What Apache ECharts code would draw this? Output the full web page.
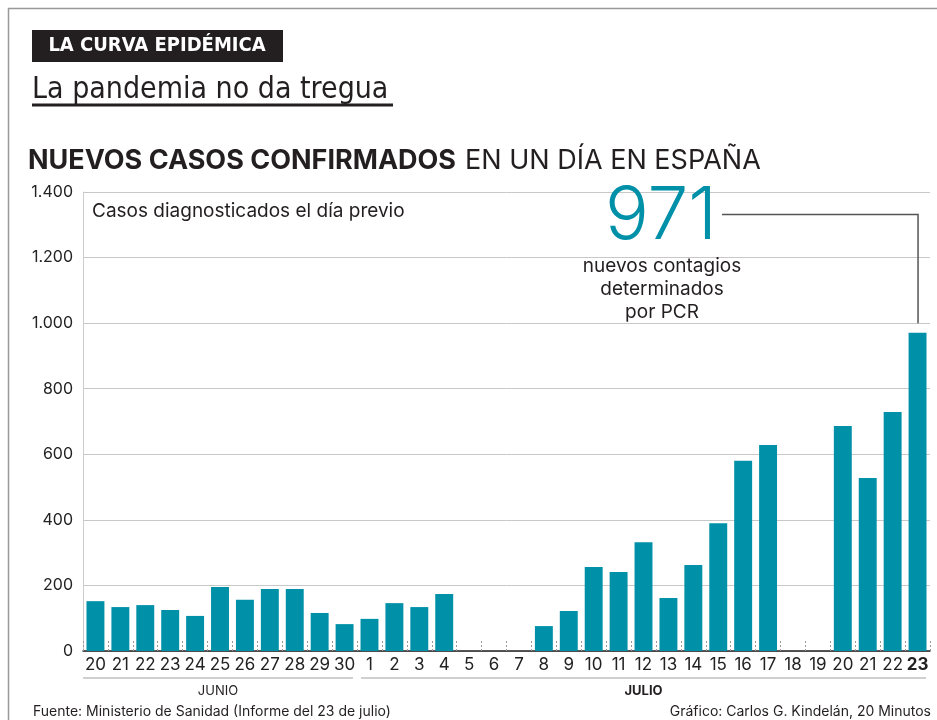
<!DOCTYPE html>
<html>
<head>
<meta charset="utf-8">
<script src="https://cdn.jsdelivr.net/npm/echarts@6/dist/echarts.min.js"></script>
<style>
  html, body {margin: 0; padding: 0; background: #fff;}
  #chart {width: 937px; height: 720px;}
</style>
</head>
<body>
<div id="chart"></div>
<script>
// days shown: 20-30 junio, 1-23 julio
const days = ['20', '21', '22', '23', '24', '25', '26', '27', '28', '29', '30',
  '1', '2', '3', '4', '5', '6', '7', '8', '9', '10', '11', '12', '13', '14', '15', '16', '17', '18', '19', '20', '21', '22', '23']
const months = [{name: 'JUNIO', from: 0, to: 10, bold: false}, {name: 'JULIO', from: 11, to: 33, bold: true}]
// null = sin dato publicado
const cases = [152, 134, 140, 125, 107, 195, 156, 189, 189, 116, 82,
  98, 146, 134, 174, null, null, null, 76, 122, 256, 241, 332, 162, 262, 390, 580, 628, null, null, 686, 528, 729, 971]

const FONT = 'Inter, "Noto Sans", sans-serif'
const teal = '#0091a9'

let chart = echarts.init(document.getElementById('chart'), null, {renderer: 'canvas'})

const fmt = v => String(v).replace(/\B(?=(\d{3})+(?!\d))/g, '.')

let option = {
  animation: false,
  textStyle: {fontFamily: FONT},
  grid: {left: 83, right: 7, top: 192, bottom: 69, containLabel: false},
  xAxis: {
    type: 'category',
    data: days,
    axisLine: {lineStyle: {color: '#222', width: 1.5}},
    axisTick: {
      show: true, inside: true, length: 10,
      lineStyle: {color: '#999', type: [2, 2], width: 1}
    },
    axisLabel: {
      color: '#222', fontSize: 17, margin: 5, interval: 0, fontFamily: FONT,
      formatter: (v, i) => i === days.length - 1 ? '{b|' + v + '}' : v,
      rich: {b: {fontWeight: 'bold', fontSize: 17, color: '#222', fontFamily: FONT}}
    }
  },
  yAxis: {
    type: 'value',
    min: 0, max: 1400, interval: 200,
    axisLine: {show: true, lineStyle: {color: '#ccc'}},
    axisTick: {show: false},
    splitLine: {lineStyle: {color: '#c8c8c8', width: 1}},
    axisLabel: {color: '#222', fontSize: 16, margin: 10, fontFamily: FONT, formatter: v => fmt(v)}
  },
  series: [{
    type: 'bar',
    data: cases,
    barCategoryGap: '28%',
    itemStyle: {color: teal},
    silent: true
  }]
}
chart.setOption(option)

// annotation + decoration positioned with the chart's own scales
const last = days.length - 1
const pTop = chart.convertToPixel({gridIndex: 0}, [last, cases[last]])
const p1000 = chart.convertToPixel({gridIndex: 0}, [last, 1000])
const gridRight = 930
const base = chart.convertToPixel({gridIndex: 0}, [0, 0])[1]
const halfCat = (chart.convertToPixel({gridIndex: 0}, [1, 0])[0] - chart.convertToPixel({gridIndex: 0}, [0, 0])[0]) / 2

let graphics = [
  // frame
  {type: 'line', shape: {x1: 8, y1: 8.5, x2: 937, y2: 8.5}, style: {stroke: '#999', lineWidth: 1.5}},
  {type: 'line', shape: {x1: 8.5, y1: 8, x2: 8.5, y2: 720}, style: {stroke: '#999', lineWidth: 1.5}},
  // kicker
  {type: 'rect', shape: {x: 32, y: 30, width: 251, height: 32}, style: {fill: '#231f20'}},
  {type: 'text', x: 157, y: 46, style: {text: 'LA CURVA EPIDÉMICA', fill: '#fff', font: 'bold 20px "DejaVu Sans Condensed", "Liberation Sans Narrow", sans-serif', align: 'center', verticalAlign: 'middle'}},
  {type: 'text', x: 32, y: 90, style: {text: 'La pandemia no da tregua', fill: '#231f20', font: '30px "DejaVu Sans Condensed", "Liberation Sans Narrow", sans-serif', verticalAlign: 'middle'}},
  {type: 'rect', shape: {x: 32, y: 103.5, width: 361, height: 3}, style: {fill: '#231f20'}},
  // chart title
  {type: 'text', x: 28, y: 161, style: {
    text: '{b|NUEVOS CASOS CONFIRMADOS}{n|EN UN DÍA EN ESPAÑA}', verticalAlign: 'middle',
    rich: {
      b: {font: 'bold 27px ' + FONT, fill: '#231f20'},
      n: {font: '27px ' + FONT, fill: '#231f20', padding: [0, 0, 0, 9]}
    }
  }},
  {type: 'text', x: 92, y: 211, style: {text: 'Casos diagnosticados el día previo', fill: '#231f20', font: '19px ' + FONT, verticalAlign: 'middle'}},
  // 971 callout
  {type: 'text', x: 661, y: 217, style: {text: String(cases[last]), fill: teal, font: '300 73px ' + FONT, align: 'center', verticalAlign: 'middle'}},
  {type: 'text', x: 662, y: 255, style: {text: 'nuevos contagios\ndeterminados\npor PCR', fill: '#231f20', font: '19px ' + FONT, align: 'center', verticalAlign: 'top', lineHeight: 23}},
  {type: 'polyline', shape: {points: [[722, 214.5], [pTop[0] + 0.5, 214.5], [pTop[0] + 0.5, p1000[1]]]}, style: {stroke: '#555', lineWidth: 1.5, fill: null}},
  // footer
  {type: 'text', x: 33, y: 712, style: {text: 'Fuente: Ministerio de Sanidad (Informe del 23 de julio)', fill: '#231f20', font: '14px ' + FONT, verticalAlign: 'middle'}},
  {type: 'text', x: 931, y: 712, style: {text: 'Gráfico: Carlos G. Kindelán, 20 Minutos', fill: '#231f20', font: '14px ' + FONT, align: 'right', verticalAlign: 'middle'}}
]

months.forEach(m => {
  const x0 = chart.convertToPixel({gridIndex: 0}, [m.from, 0])[0] - halfCat + (m.from ? 4 : 0)
  const x1 = Math.min(chart.convertToPixel({gridIndex: 0}, [m.to, 0])[0] + halfCat - 4, gridRight)
  graphics.push({type: 'rect', shape: {x: x0, y: base + 26, width: x1 - x0, height: 2}, style: {fill: '#d0d0d0'}})
  graphics.push({type: 'text', x: (x0 + x1) / 2, y: base + 40, style: {
    text: m.name, fill: '#231f20', align: 'center', verticalAlign: 'middle',
    font: (m.bold ? 'bold ' : '') + '13px ' + FONT
  }})
})

chart.setOption({graphic: {elements: graphics}})
</script>
</body>
</html>
